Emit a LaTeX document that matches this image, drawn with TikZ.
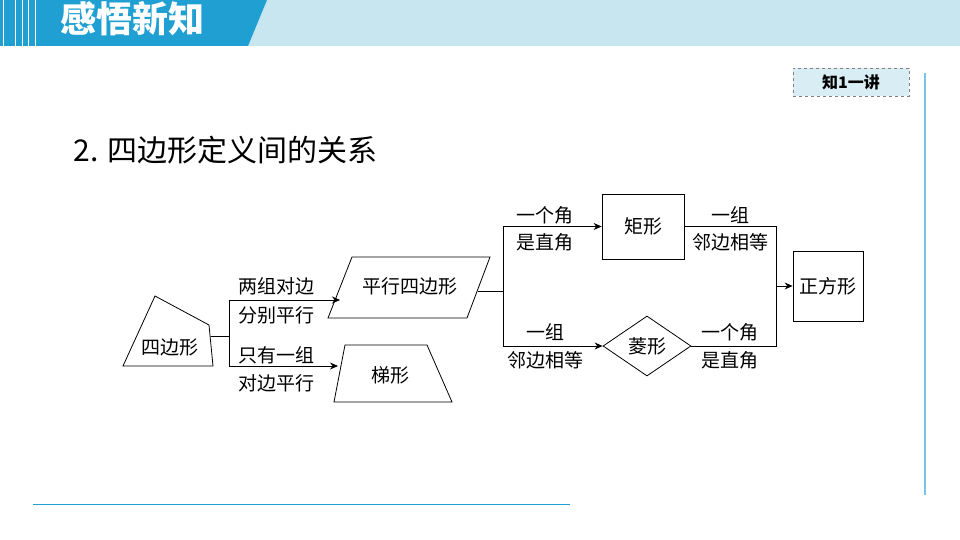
\documentclass[tikz,border=0pt]{standalone}
\usepackage{fontspec}
\setmainfont{Noto Sans CJK SC}
\usetikzlibrary{shapes.geometric,arrows.meta}
\definecolor{hdblue}{RGB}{32,160,210}
\definecolor{hdlight}{RGB}{200,230,240}
\tikzset{
  lbl/.style={font=\fontsize{19}{19}\selectfont, inner sep=0pt},
  shp/.style={draw, thick, font=\fontsize{19}{19}\selectfont},
  flow/.style={thick, -{Stealth[length=8pt,width=7pt]}},
  link/.style={thick}
}
\begin{document}
\begin{tikzpicture}[x=1pt,y=-1pt]
   \useasboundingbox (0,0) rectangle (960,540);
   % header band
   \fill[hdlight] (248,0) rectangle (960,46);
   \fill[hdblue] (0,0) -- (267,0) -- (248,46) -- (0,46) -- cycle;
   \foreach \x in {3,15,22,28,35}
     \draw[white, line width=0.8pt] (\x,0) -- (\x,46);
   \node[text=white, font=\fontsize{36}{36}\bfseries\selectfont] (title) at (132,19) {感悟新知};

   \node[draw=gray, dashed, fill=hdlight!70, minimum width=116, minimum height=28,
         font=\fontsize{16}{16}\bfseries\selectfont] (tag) at (851,82) {知1一讲};
   \draw[hdblue!60, line width=1.5pt] (925,73) -- (925,495);
   \draw[hdblue, thin] (33,504) -- (570,504);

   \node[anchor=west, font=\fontsize{30}{30}\selectfont] (head) at (70,150) {2. 四边形定义间的关系};

   % shapes
   \draw[thick] (123,366) -- (155,296) -- (209,325) -- (213,366) -- cycle;
   \node[lbl] (quad) at (170,347) {四边形};
   \coordinate (qr) at (211,336);
   \draw[thick] (328,318) -- (352,257) -- (490,257) -- (467,318) -- cycle;
   \node[lbl] (para) at (410,286) {平行四边形};
   \coordinate (pl) at (340,300);
   \coordinate (pr) at (478,291);
   \draw[thick] (334,402) -- (345,345) -- (427,345) -- (452,402) -- cycle;
   \node[lbl] (trap) at (390,375) {梯形};
   \coordinate (tl) at (338,366);
   \node[shp, minimum width=82, minimum height=65] (rect) at (643,226.5) {矩形};
   \node[shp, diamond, minimum width=88, minimum height=60, inner sep=0pt] (rhom) at (647,346) {菱形};
   \node[shp, minimum width=70, minimum height=70] (sq) at (828,286) {正方形};

   % connectors
   \draw[link] (qr) -- (229,336) coordinate (j1);
   \draw[flow] (j1) |- (pl);
   \draw[flow] (j1) |- (tl);
   \draw[link] (pr) -- (503,291) coordinate (j2);
   \draw[flow] (j2) |- (rect.west);
   \draw[flow] (j2) |- (rhom.west);
   \draw[link] (rect.east) -| (776,286) coordinate (j3);
   \draw[link] (rhom.east) -| (j3);
   \draw[flow] (j3) -- (sq.west);

   % labels
   \node[lbl] (l1a) at (276,286) {两组对边};
   \node[lbl] (l1b) at (276,315) {分别平行};
   \node[lbl] (l2a) at (276,355) {只有一组};
   \node[lbl] (l2b) at (276,383) {对边平行};
   \node[lbl] (l3a) at (545,215) {一个角};
   \node[lbl] (l3b) at (545,242) {是直角};
   \node[lbl] (l4a) at (545,332) {一组};
   \node[lbl] (l4b) at (545,360) {邻边相等};
   \node[lbl] (l5a) at (730,215) {一组};
   \node[lbl] (l5b) at (730,242) {邻边相等};
   \node[lbl] (l6a) at (730,332) {一个角};
   \node[lbl] (l6b) at (730,360) {是直角};
\end{tikzpicture}
\end{document}
